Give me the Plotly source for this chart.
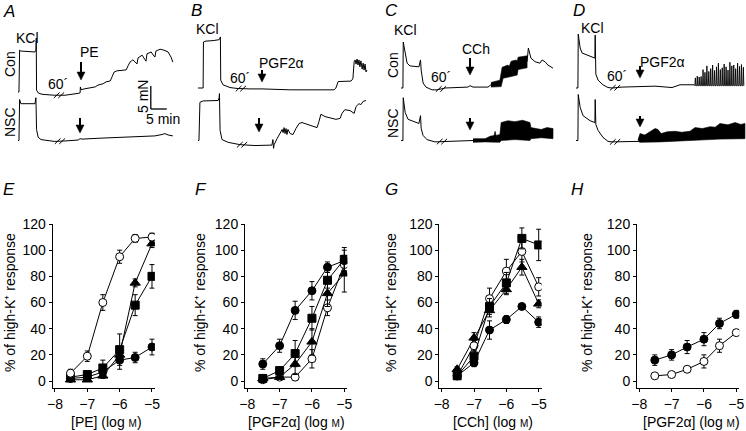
import numpy as np
import plotly.graph_objects as go

W, H = 746, 431
FONT = "Liberation Sans, Arial, sans-serif"

# ---------------- dose-response data (% of high-K+ response) ----------------
LOG_CONC = [-7.52, -7.0, -6.52, -6.0, -5.52, -5.0]

E_OPEN = [6, 19, 60, 95, 109, 110];   E_OPEN_ERR = [3, 4, 6, 5, 3, 3]
E_CIRC = [2, 3, 7, 16, 18, 26];       E_CIRC_ERR = [1, 2, 3, 7, 4, 6]
E_SQ   = [3, 5, 10, 24, 58, 80];      E_SQ_ERR   = [2, 3, 6, 12, 8, 9]
E_TRI  = [1, 1, 4, 20, 75, 105];      E_TRI_ERR  = [1, 1, 2, 5, 3, 3]

F_CIRC = [13, 27, 54, 69, 87, 92];    F_CIRC_ERR = [4, 5, 7, 7, 4, 8]
F_SQ   = [2, 8, 21, 48, 77, 93];      F_SQ_ERR   = [1, 2, 10, 9, 6, 9]
F_TRI  = [2, 3, 13, 30, 67, 82];      F_TRI_ERR  = [1, 1, 8, 10, 10, 14]
F_OPEN = [1, 3, 3, 17, 56, 89];       F_OPEN_ERR = [1, 1, 1, 7, 6, 5]

G_SQ   = [4, 19, 57, 75, 109, 104];   G_SQ_ERR   = [2, 4, 6, 8, 8, 12]
G_OPEN = [4, 27, 63, 84, 99, 72];     G_OPEN_ERR = [2, 4, 8, 9, 8, 7]
G_TRI  = [9, 33, 54, 70, 87, 59];     G_TRI_ERR  = [2, 4, 5, 4, 6, 3]
G_CIRC = [4, 14, 39, 47, 57, 45];     G_CIRC_ERR = [1, 3, 7, 3, 2, 4]

H_CIRC = [16, 20, 26, 32, 44, 51];    H_CIRC_ERR = [4, 4, 5, 5, 4, 3]
H_OPEN = [4, 5, 9, 15, 27, 37];       H_OPEN_ERR = [1, 1, 1, 5, 5, 2]

X_TICKS = [-8, -7, -6, -5]
Y_TICKS = [0, 20, 40, 60, 80, 100, 120]
X_TITLES = ["[PE] (log <span style='font-size:10px'>M</span>)",
            "[PGF2α] (log <span style='font-size:10px'>M</span>)",
            "[CCh] (log <span style='font-size:10px'>M</span>)",
            "[PGF2α] (log <span style='font-size:10px'>M</span>)"]
Y_TITLE = "% of high-K⁺ response"

# ---------------- tension recordings: (time min, tension mN) ----------------
A_CON = [(0, 0), (0.3, 0), (0.5, 9.1), (0.9, 8.9), (5.3, 8.7), (5.6, 9.1), (5.7, 11.7), (5.8, 0.4),
         (6.3, -0.2), (7.5, -0.5), (11.3, -0.7), (14.7, -0.7), (18.8, -0.3), (19.4, -0.2), (19.5, 1.1),
         (19.7, 0.5), (20.9, 0.7), (22.5, 0.9), (24.1, 1.1), (25, 1.5), (26.6, 1.8), (27.5, 2.2),
         (28.8, 2.4), (29.4, 3.3), (30, 4.3), (30.9, 4.6), (33.8, 4.8), (34.4, 5.7), (35, 6.5),
         (35.9, 7), (36.9, 6.3), (37.2, 6.1), (37.5, 7.4), (38.8, 8), (39.7, 7), (40, 6.7), (40.3, 8.3),
         (41.6, 8.7), (42.5, 7.8), (42.8, 7.6), (43.1, 8.9), (44.4, 9.3), (45.6, 9.1), (46.3, 8.9),
         (46.9, 8.7), (47.8, 7.6), (48.4, 6.5)]
A_NSC = [(0, 0), (0.3, 0), (0.5, 8.9), (0.9, 8), (5.3, 8), (5.5, 8.9), (5.6, 9.3), (5.8, 2.4), (6.3, 0.7),
         (7.2, 0.2), (11.3, -0.2), (14.7, -0.1), (18.8, 0.1), (19.4, 0.4), (20, 0.3), (25.6, 0.5),
         (31.9, 0.7), (38.1, 0.8), (42.8, 1), (45, 1.3), (45.9, 1.5), (46.9, 1.2), (48.4, 1)]

B_CON = [(0, 0), (1.6, 0), (1.7, 10), (2.5, 10.2), (4.7, 10.3), (6.6, 10.5), (6.9, 10.9), (7, 11.1),
         (7.1, 1.7), (7.8, 0.7), (10, 0.1), (12.2, -0.1), (16.3, -0.2), (20, -0.2), (28.8, -0.4),
         (42.5, -0.4), (43.1, 0), (43.8, 1.4), (47.8, 1.5), (48.4, 2), (48.8, 5.7), (49.1, 6.1),
         (49.4, 5.2), (49.7, 6.3), (50, 5), (50.3, 6.1), (50.6, 4.6), (50.9, 5.9), (51.3, 4.1),
         (51.6, 5.4), (51.9, 3.9), (52.2, 5.2), (52.5, 3.5), (52.8, 3.9)]
B_NSC = [(0, 0), (0.3, 0), (0.6, 8.3), (1.6, 8.6), (6.3, 8.7), (6.6, 9.3), (6.7, 10.2), (6.9, 2.2),
         (7.5, 0.2), (9.4, -0.4), (13.1, -0.9), (17.8, -1.1), (23.1, -1), (23.4, 0.2), (23.6, -1.7),
         (23.8, -0.9), (24.7, 0.4), (25.6, 1.5), (26.3, 2.4), (26.6, 1.7), (26.9, 2.8), (27.2, 1.5),
         (27.5, 2.6), (27.8, 1.3), (28.1, 2.4), (28.8, 1.5), (29.7, 1.3), (30.6, 2.6), (31.6, 3.7),
         (32.5, 3.9), (35, 3.3), (37.2, 2.8), (37.8, 4.1), (38.4, 5.7), (39.7, 5.2), (43.1, 4.6),
         (44.4, 4.8), (45, 5.9), (45.9, 6.7), (47.5, 6.5), (48.8, 5.9), (49.4, 7.4), (50.3, 8),
         (50.9, 7.8), (51.6, 8.5), (52.5, 8.7)]

C_CON = [(0, 0), (0.6, 0), (0.7, 10), (1.3, 7.2), (1.9, 5.4), (2.8, 4.8), (5.6, 4.6), (6.1, 6.1),
         (6.3, 3.9), (6.9, 1.1), (7.8, 0.2), (9.7, -0.4), (11.3, -0.4), (13.8, 0), (18.4, 0.1),
         (20.9, 0.2), (21.6, 0.5), (22.5, 0.2), (27.2, 0.2), (28.1, 0.7)]
C_CON_BAND_UP = [(28.1, 1.2), (30.9, 1.7), (31.6, 4.5), (33.4, 5.0), (33.8, 4.7), (34.4, 5.8),
                 (36.0, 6.1), (36.3, 5.8), (36.6, 6.7), (39.4, 7.0)]
C_CON_BAND_LO = [(39.4, 4.4), (36.6, 4.0), (36.3, 2.8), (34.1, 2.5), (31.9, 2.1), (31.3, 0.3), (28.1, 0.2)]
C_CON_TAIL = [(39.4, 5.7), (39.8, 8.7), (40.6, 6.5), (41.9, 5.7), (43.4, 5.4), (44.1, 6.1), (45, 5.7),
              (45.9, 5), (47.5, 4.3)]
C_NSC = [(0, 0), (0.6, 0), (0.7, 9.3), (1.3, 6.1), (2.2, 4.6), (5.6, 3.7), (6.1, 5.4), (6.3, 2.6),
         (6.9, 1.1), (8.1, 0.2), (10.6, -0.3), (13.8, -0.2), (21.6, 0), (22.5, 0)]
C_NSC_BAND_UP = [(22.5, 0.4), (26.3, 0.4), (27.8, 0.9), (29.1, 1.1), (29.4, 2), (29.7, 1.1), (30.9, 1.3),
                 (31.3, 3.9), (33.4, 4.3), (35.6, 4.1), (38, 4.4), (40.3, 3.9), (40.6, 2.8), (43.8, 2.4),
                 (45.6, 2.8), (47.5, 2.6)]
C_NSC_BAND_LO = [(47.5, 0.4), (43.8, 0.6), (40.6, 0.4), (40.3, 0), (35.6, 0.2), (31.3, 0), (30.9, -0.4),
                 (26.3, -0.3), (22.5, -0.4)]

D_CON = [(0, 0), (0.6, 0), (0.7, 11.7), (1.3, 8.7), (1.9, 7.6), (3.8, 7), (5.6, 6.5), (5.9, 6.5),
         (6, 11.5), (6.2, 3), (6.9, 1.7), (8.4, 0.7), (10, 0.1), (11.3, 0), (14.4, 0.2), (20, 0.3),
         (24.7, 0.4), (30, 0.1), (32.5, 0.7), (36.9, 0.7)]
D_CON_SPIKE_T = [37.3, 37.9, 38.5, 39.1, 39.7, 40.3, 40.9, 41.5, 42.1, 42.7, 43.3, 43.9, 44.5,
                 45.1, 45.7, 46.3, 46.9, 47.5, 48.1, 48.7, 49.3, 49.9, 50.5, 51.1, 51.7, 52.3]
D_CON_SPIKE_F = [2.2, 2.6, 2.4, 2.5, 4.0, 3.4, 4.8, 3.6, 4.2, 5.0, 3.8, 4.6, 5.4, 4.0, 4.4, 5.2,
                 4.6, 3.9, 5.6, 4.8, 5.0, 4.2, 5.4, 4.7, 5.1, 4.5]
D_CON_SPIKE_BASE = 0.5
D_NSC = [(0, 0), (0.6, 0), (0.7, 10), (1.3, 7.2), (2.2, 5.4), (4.4, 4.3), (5.9, 3.9), (6, 8.9),
         (6.2, 3.5), (6.9, 2.2), (8.4, 0.7), (10, -0.2), (11.3, -0.3), (14.4, -0.3), (19.4, -0.2)]
D_NSC_BAND_UP = [(19.4, 0.2), (20, 1.5), (21.5, 1.2), (23.1, 2), (23.8, 2.2), (24.7, 2.6), (25.6, 2.4),
                 (26.6, 1.5), (28.5, 1.9), (30.9, 2), (33, 1.8), (35.6, 2), (37.2, 2.8), (39.5, 2.6),
                 (41.9, 3), (43.5, 2.9), (45, 3.7), (47.5, 3.4), (49.7, 3.9), (51.5, 3.5), (52.8, 3.7)]
D_NSC_BAND_LO = [(52.8, 0.4), (45, 0.3), (37.2, 0), (26.3, -0.3), (20, -0.4), (19.4, -0.2)]

# break (60 min) times: (Con, NSC)
BREAKS = {'A': (12.8, 13.1), 'B': (13.4, 13.75), 'C': (12.5, 12.8), 'D': (12.2, 12.2)}

# ---------------- layout constants ----------------
PX_MIN, PX_MN = 3.2, 4.6
TOP_H, NSC_BASE = 160, 140.5
TOP = {'A': dict(i=1, L=0, R=186, x0=18, con_base=92),
       'B': dict(i=2, L=186, R=372, x0=198, con_base=88),
       'C': dict(i=3, L=372, R=558, x0=401, con_base=88),
       'D': dict(i=4, L=558, R=746, x0=576, con_base=88)}
Y_LO = -(TOP_H - NSC_BASE) / PX_MN
Y_HI = NSC_BASE / PX_MN

fig = go.Figure()
layout = dict(width=W, height=H, margin=dict(l=0, r=0, t=0, b=0, pad=0), showlegend=False,
              paper_bgcolor='white', plot_bgcolor='white')


def ax_names(i):
    return ('x' if i == 1 else f'x{i}', 'y' if i == 1 else f'y{i}',
            'xaxis' if i == 1 else f'xaxis{i}', 'yaxis' if i == 1 else f'yaxis{i}')


def line_tr(t, f, i, width=1.0):
    xr, yr, _, _ = ax_names(i)
    fig.add_trace(go.Scatter(x=t, y=f, mode='lines', line=dict(color='black', width=width),
                             xaxis=xr, yaxis=yr, hoverinfo='skip'))


def pts(p, off):
    return [a for a, _ in p], [b + off for _, b in p]


for key, P in TOP.items():
    i = P['i']
    xr, yr, xk, yk = ax_names(i)
    layout[xk] = dict(domain=[P['L'] / W, P['R'] / W],
                      range=[(P['L'] - P['x0']) / PX_MIN, (P['R'] - P['x0']) / PX_MIN],
                      visible=False, anchor=yr)
    layout[yk] = dict(domain=[1 - TOP_H / H, 1], range=[Y_LO, Y_HI], visible=False, anchor=xr)
    P['off'] = (NSC_BASE - P['con_base']) / PX_MN

bands = {'C': [(C_CON, C_CON_BAND_UP, C_CON_BAND_LO, C_CON_TAIL, 'con'),
               (C_NSC, C_NSC_BAND_UP, C_NSC_BAND_LO, None, 'nsc')],
         'D': [(D_NSC, D_NSC_BAND_UP, D_NSC_BAND_LO, None, 'nsc')]}

traces = {'A': (A_CON, A_NSC), 'B': (B_CON, B_NSC), 'C': (C_CON, C_NSC), 'D': (D_CON, D_NSC)}
for key, (con, nsc) in traces.items():
    P = TOP[key]
    i = P['i']
    t, f = pts(con, P['off']); line_tr(t, f, i)
    t, f = pts(nsc, 0); line_tr(t, f, i)
    # break marks
    for tb, tr, off in ((BREAKS[key][0], con, P['off']), (BREAKS[key][1], nsc, 0)):
        fb = np.interp(tb, [a for a, _ in tr], [b for _, b in tr]) + off
        bx, by = [], []
        for d in (-0.7, 0.7):
            bx += [tb + d - 0.9, tb + d + 0.9, None]
            by += [fb - 0.6, fb + 0.6, None]
        line_tr(bx, by, i, width=1.0)

for key, lst in bands.items():
    P = TOP[key]
    i = P['i']
    xr, yr, _, _ = ax_names(i)
    for base, up, lo, tail, which in lst:
        off = P['off'] if which == 'con' else 0
        poly = up + lo
        fig.add_trace(go.Scatter(x=[a for a, _ in poly], y=[b + off for _, b in poly], mode='lines',
                                 fill='toself', fillcolor='black', line=dict(color='black', width=0.6),
                                 xaxis=xr, yaxis=yr, hoverinfo='skip'))
        if tail:
            t, f = pts(tail, off); line_tr(t, f, i)

# D Con spikes
sx, sy = [], []
for t, pk in zip(D_CON_SPIKE_T, D_CON_SPIKE_F):
    sx += [t - 0.15, t, t + 0.15]
    sy += [D_CON_SPIKE_BASE + TOP['D']['off'], pk + TOP['D']['off'], D_CON_SPIKE_BASE + TOP['D']['off']]
line_tr([36.9] + sx, [0.7 + TOP['D']['off']] + sy, 4, width=0.9)

# scale bar (5 mN, 5 min) in panel A
SB_T, SB_F = 41.5, (NSC_BASE - 109) / PX_MN
shapes = [dict(type='line', xref='x', yref='y', x0=SB_T, x1=SB_T, y0=SB_F, y1=SB_F + 5,
               line=dict(color='black', width=1.3)),
          dict(type='line', xref='x', yref='y', x0=SB_T, x1=SB_T + 5, y0=SB_F, y1=SB_F,
               line=dict(color='black', width=1.3))]

# ---------------- bottom dose-response panels ----------------
BOT_L = [52.7, 245.0, 439.4, 637.0]
BOT_W = 102.2
BOT_Y = (224, 388)
panels = [
    [(E_CIRC, E_CIRC_ERR, 'circle', True), (E_TRI, E_TRI_ERR, 'triangle-up', True),
     (E_SQ, E_SQ_ERR, 'square', True), (E_OPEN, E_OPEN_ERR, 'circle', False)],
    [(F_OPEN, F_OPEN_ERR, 'circle', False), (F_TRI, F_TRI_ERR, 'triangle-up', True),
     (F_CIRC, F_CIRC_ERR, 'circle', True), (F_SQ, F_SQ_ERR, 'square', True)],
    [(G_CIRC, G_CIRC_ERR, 'circle', True), (G_TRI, G_TRI_ERR, 'triangle-up', True),
     (G_OPEN, G_OPEN_ERR, 'circle', False), (G_SQ, G_SQ_ERR, 'square', True)],
    [(H_OPEN, H_OPEN_ERR, 'circle', False), (H_CIRC, H_CIRC_ERR, 'circle', True)],
]
axis_common = dict(showline=True, linecolor='black', linewidth=1, ticks='outside', ticklen=3,
                   tickwidth=1, tickcolor='black', showgrid=False, zeroline=False, automargin=False,
                   tickfont=dict(family=FONT, size=14, color='black'))
for k, series in enumerate(panels):
    i = 5 + k
    xr, yr, xk, yk = ax_names(i)
    L = BOT_L[k]
    layout[xk] = dict(domain=[L / W, (L + BOT_W) / W], range=[-8.07, -4.91], tickvals=X_TICKS,
                      anchor=yr, **axis_common)
    layout[yk] = dict(domain=[1 - BOT_Y[1] / H, 1 - BOT_Y[0] / H], range=[-5.3, 120], tickvals=Y_TICKS,
                      anchor=xr, **axis_common)
    for vals, errs, sym, filled in series:
        size = 9 if sym == 'triangle-up' else 8
        fig.add_trace(go.Scatter(
            x=LOG_CONC, y=vals, mode='lines+markers', xaxis=xr, yaxis=yr,
            line=dict(color='black', width=1),
            marker=dict(symbol=sym, size=size, color='black' if filled else 'white',
                        line=dict(color='black', width=1)),
            error_y=dict(type='data', array=errs, color='black', thickness=1, width=2.5),
            hoverinfo='skip'))

# ---------------- annotations ----------------
ann = []


def text(s, x, y, size=14, angle=0, italic=False):
    ann.append(dict(text=s, x=x / W, y=1 - y / H, xref='paper', yref='paper', showarrow=False,
                    xanchor='center', yanchor='middle', textangle=angle,
                    font=dict(family=FONT, size=size, color='black',
                              style='italic' if italic else 'normal')))


def arrow(x, tip, top):
    # shaft + filled head, drawn in paper coordinates
    hx, hh = 4.0, 8.0
    shapes.append(dict(type='line', xref='paper', yref='paper', x0=x / W, x1=x / W,
                       y0=1 - top / H, y1=1 - (tip - hh + 1) / H, line=dict(color='black', width=2)))
    path = (f"M {(x - hx) / W},{1 - (tip - hh) / H} L {(x + hx) / W},{1 - (tip - hh) / H} "
            f"L {x / W},{1 - tip / H} Z")
    shapes.append(dict(type='path', xref='paper', yref='paper', path=path, fillcolor='black',
                       line=dict(color='black', width=0.5)))


for s, x, y in [('A', 9, 12), ('B', 196, 11), ('C', 391, 11), ('D', 579, 11),
                ('E', 9, 189), ('F', 201, 189), ('G', 391, 189), ('H', 577, 189)]:
    text(s, x, y, size=17, italic=True)

text('KCl', 28, 38); text('KCl', 207, 29); text('KCl', 405, 30); text('KCl', 592, 28)
text('Con', 10, 64, angle=-90); text('NSC', 10, 122, angle=-90)
text('Con', 393, 65, angle=-90); text('NSC', 393, 123, angle=-90)
text('PE', 89, 52); text('PGF2α', 281, 63); text('CCh', 476, 49); text('PGF2α', 662, 62)
for x, y in [(58, 84), (240, 78), (441, 77), (617, 76)]:
    text('60´', x, y)
text('5 mN', 143, 97, angle=-90); text('5 min', 163, 119)

for x, tip, top in [(81, 80, 62), (80, 133, 118), (262, 82, 70), (259, 132, 118),
                    (470, 75, 58), (470, 130, 118), (640, 78, 66), (640, 127, 116)]:
    arrow(x, tip, top)

for k, cx in enumerate([10, 200, 391, 587]):
    text(Y_TITLE, cx, 303, angle=-90)
for k, cx in enumerate([106, 296, 493, 691]):
    text(X_TITLES[k], cx, 422)

layout['annotations'] = ann
layout['shapes'] = shapes
fig.update_layout(**layout)
fig.write_html("out.html", config={'displayModeBar': False},
               post_script="document.body.style.margin='0px';")
